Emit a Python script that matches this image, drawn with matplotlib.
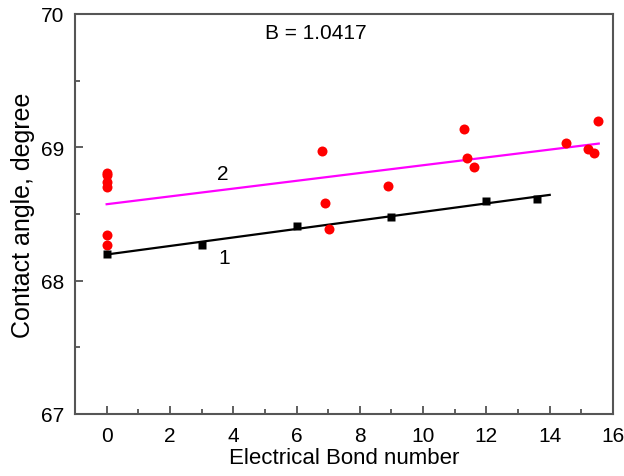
import numpy as np
import matplotlib
matplotlib.use('Agg')
import matplotlib.pyplot as plt
from matplotlib.ticker import MultipleLocator

plt.rcParams['font.family'] = ['Liberation Sans', 'DejaVu Sans']

# series 1: squares, series 2: red circles
bond_1 = [0, 3, 6, 9, 12, 13.6]
angle_1 = [68.20, 68.27, 68.41, 68.48, 68.60, 68.61]

bond_2 = [0, 0, 0, 0, 0, 0, 6.80, 6.90, 7.03, 8.89, 11.30, 11.40, 11.60,
          14.51, 15.21, 15.40, 15.52]
angle_2 = [68.81, 68.79, 68.74, 68.70, 68.34, 68.27, 68.97, 68.58, 68.39,
           68.71, 69.14, 68.92, 68.85, 69.03, 68.99, 68.96, 69.20]

fit_range_1 = [0, 14]
fit_range_2 = [0, 15.55]

fig = plt.figure(figsize=(6.24, 4.77), dpi=100)
ax = fig.add_axes([75 / 624, 62 / 477, 538 / 624, 400 / 477])

# linear fits
p1 = np.polyfit(bond_1, angle_1, 1)
p2 = np.polyfit(bond_2, angle_2, 1)
ax.plot(fit_range_1, np.polyval(p1, fit_range_1), color='black', lw=1.6, zorder=2)
ax.plot(fit_range_2, np.polyval(p2, fit_range_2), color='#ff00ff', lw=1.6, zorder=2)

ax.plot(bond_2, angle_2, 'o', color='red', ms=7.2, mec='none', zorder=3)
ax.plot(bond_1, angle_1, 's', color='black', ms=5.8, mec='none', zorder=4)

ax.text(3.67, 68.80, '2', fontsize=15, ha='center', va='center')
ax.text(3.72, 68.17, '1', fontsize=15, ha='center', va='center')
ax.text(6.61, 69.86, 'B = 1.0417', fontsize=15, ha='center', va='center')

ax.set_xlim(-1, 16)
ax.set_ylim(67, 70)
ax.xaxis.set_major_locator(MultipleLocator(2))
ax.xaxis.set_minor_locator(MultipleLocator(1))
ax.yaxis.set_major_locator(MultipleLocator(1))
ax.yaxis.set_minor_locator(MultipleLocator(0.5))
ax.tick_params(which='both', direction='in', color='#444444', width=1.2,
               labelsize=15, top=False, right=False)
ax.tick_params(which='major', length=6)
ax.tick_params(which='minor', length=3.5)
ax.tick_params(axis='x', which='major', pad=9)
ax.tick_params(axis='y', which='major', pad=8)
for s in ax.spines.values():
    s.set_color('#555555')
    s.set_linewidth(1.5)

ax.set_xlabel('Electrical Bond number', fontsize=16, labelpad=1)
ax.set_ylabel('Contact angle, degree', fontsize=18, labelpad=4)

fig.savefig('out.png', dpi=100)
